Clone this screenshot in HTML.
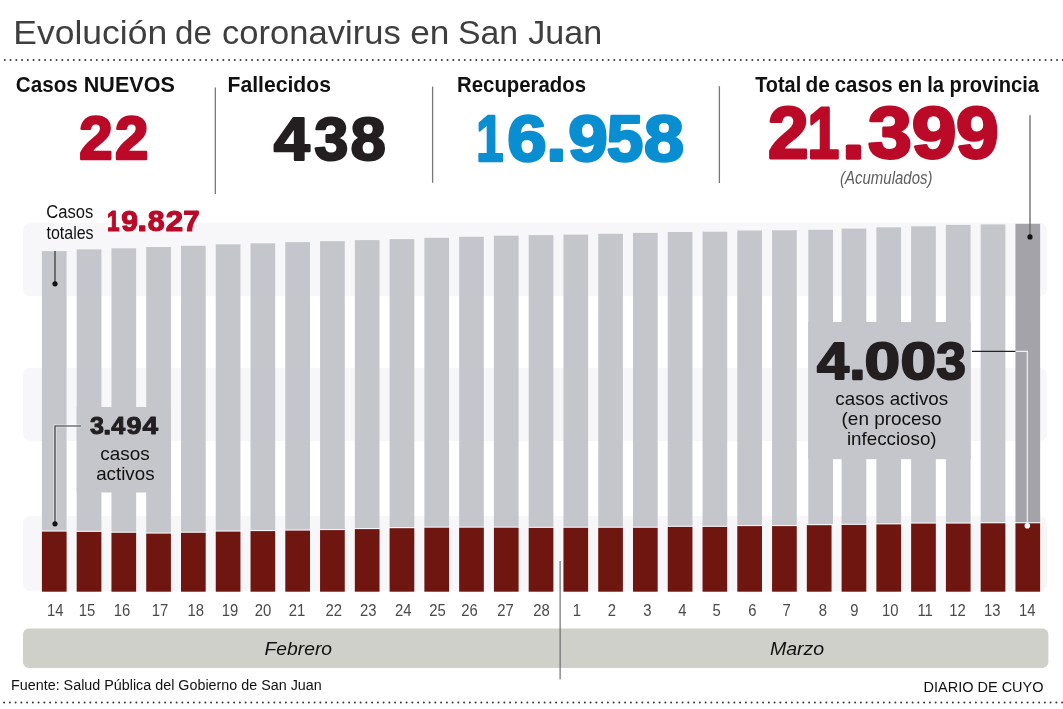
<!DOCTYPE html>
<html><head><meta charset="utf-8"><title>Evolución de coronavirus en San Juan</title>
<style>html,body{margin:0;padding:0;background:#fff;width:1063px;height:709px;overflow:hidden}svg{display:block;will-change:transform}text{font-family:"Liberation Sans",sans-serif}</style></head>
<body><svg width="1063" height="709" viewBox="0 0 1063 709">
<rect x="23" y="223" width="1024" height="73" rx="7" fill="#f7f7f9"/>
<rect x="23" y="368" width="1024" height="73" rx="7" fill="#f7f7f9"/>
<rect x="23" y="516" width="1024" height="75" rx="7" fill="#f7f7f9"/>
<rect x="41.91" y="251.10" width="24.7" height="279.40" fill="#c5c6cb"/>
<rect x="41.91" y="531.60" width="24.7" height="60.10" fill="#701611"/>
<rect x="76.68" y="249.40" width="24.7" height="281.40" fill="#c5c6cb"/>
<rect x="76.68" y="531.90" width="24.7" height="59.80" fill="#701611"/>
<rect x="111.45" y="248.30" width="24.7" height="283.40" fill="#c5c6cb"/>
<rect x="111.45" y="532.80" width="24.7" height="58.90" fill="#701611"/>
<rect x="146.22" y="247.00" width="24.7" height="285.50" fill="#c5c6cb"/>
<rect x="146.22" y="533.60" width="24.7" height="58.10" fill="#701611"/>
<rect x="180.99" y="245.80" width="24.7" height="285.90" fill="#c5c6cb"/>
<rect x="180.99" y="532.80" width="24.7" height="58.90" fill="#701611"/>
<rect x="215.75" y="244.30" width="24.7" height="286.20" fill="#c5c6cb"/>
<rect x="215.75" y="531.60" width="24.7" height="60.10" fill="#701611"/>
<rect x="250.52" y="243.30" width="24.7" height="286.70" fill="#c5c6cb"/>
<rect x="250.52" y="531.10" width="24.7" height="60.60" fill="#701611"/>
<rect x="285.29" y="242.10" width="24.7" height="287.40" fill="#c5c6cb"/>
<rect x="285.29" y="530.60" width="24.7" height="61.10" fill="#701611"/>
<rect x="320.06" y="241.20" width="24.7" height="287.80" fill="#c5c6cb"/>
<rect x="320.06" y="530.10" width="24.7" height="61.60" fill="#701611"/>
<rect x="354.83" y="240.10" width="24.7" height="287.90" fill="#c5c6cb"/>
<rect x="354.83" y="529.10" width="24.7" height="62.60" fill="#701611"/>
<rect x="389.60" y="239.10" width="24.7" height="288.00" fill="#c5c6cb"/>
<rect x="389.60" y="528.20" width="24.7" height="63.50" fill="#701611"/>
<rect x="424.37" y="237.80" width="24.7" height="288.80" fill="#c5c6cb"/>
<rect x="424.37" y="527.70" width="24.7" height="64.00" fill="#701611"/>
<rect x="459.14" y="236.80" width="24.7" height="289.80" fill="#c5c6cb"/>
<rect x="459.14" y="527.70" width="24.7" height="64.00" fill="#701611"/>
<rect x="493.91" y="235.70" width="24.7" height="290.90" fill="#c5c6cb"/>
<rect x="493.91" y="527.70" width="24.7" height="64.00" fill="#701611"/>
<rect x="528.68" y="235.10" width="24.7" height="291.70" fill="#c5c6cb"/>
<rect x="528.68" y="527.90" width="24.7" height="63.80" fill="#701611"/>
<rect x="563.44" y="234.60" width="24.7" height="292.10" fill="#c5c6cb"/>
<rect x="563.44" y="527.80" width="24.7" height="63.90" fill="#701611"/>
<rect x="598.21" y="233.80" width="24.7" height="292.90" fill="#c5c6cb"/>
<rect x="598.21" y="527.80" width="24.7" height="63.90" fill="#701611"/>
<rect x="632.98" y="232.90" width="24.7" height="293.80" fill="#c5c6cb"/>
<rect x="632.98" y="527.80" width="24.7" height="63.90" fill="#701611"/>
<rect x="667.75" y="232.00" width="24.7" height="293.80" fill="#c5c6cb"/>
<rect x="667.75" y="526.90" width="24.7" height="64.80" fill="#701611"/>
<rect x="702.52" y="231.70" width="24.7" height="294.10" fill="#c5c6cb"/>
<rect x="702.52" y="526.90" width="24.7" height="64.80" fill="#701611"/>
<rect x="737.29" y="230.50" width="24.7" height="294.50" fill="#c5c6cb"/>
<rect x="737.29" y="526.10" width="24.7" height="65.60" fill="#701611"/>
<rect x="772.06" y="230.30" width="24.7" height="294.70" fill="#c5c6cb"/>
<rect x="772.06" y="526.10" width="24.7" height="65.60" fill="#701611"/>
<rect x="808.30" y="229.80" width="24.7" height="294.30" fill="#c5c6cb"/>
<rect x="806.83" y="525.20" width="24.7" height="66.50" fill="#701611"/>
<rect x="841.60" y="228.60" width="24.7" height="295.20" fill="#c5c6cb"/>
<rect x="841.60" y="524.90" width="24.7" height="66.80" fill="#701611"/>
<rect x="876.37" y="227.30" width="24.7" height="296.00" fill="#c5c6cb"/>
<rect x="876.37" y="524.40" width="24.7" height="67.30" fill="#701611"/>
<rect x="911.13" y="226.30" width="24.7" height="296.20" fill="#c5c6cb"/>
<rect x="911.13" y="523.60" width="24.7" height="68.10" fill="#701611"/>
<rect x="945.90" y="224.90" width="24.7" height="297.60" fill="#c5c6cb"/>
<rect x="945.90" y="523.60" width="24.7" height="68.10" fill="#701611"/>
<rect x="980.67" y="224.40" width="24.7" height="297.80" fill="#c5c6cb"/>
<rect x="980.67" y="523.30" width="24.7" height="68.40" fill="#701611"/>
<rect x="1015.44" y="223.80" width="24.7" height="298.40" fill="#a3a3a9"/>
<rect x="1015.44" y="523.30" width="24.7" height="68.40" fill="#701611"/>
<rect x="76.68" y="407" width="94.24" height="85.5" fill="#c5c6cb"/>
<rect x="808.2" y="322" width="162.40" height="137.2" fill="#c5c6cb"/>
<rect x="23" y="628.4" width="1025.4" height="39.6" rx="6" fill="#d0d0ca"/>
<line x1="560.1" y1="561" x2="560.1" y2="679.4" stroke="#555" stroke-width="1"/>
<line x1="215.3" y1="87.4" x2="215.3" y2="194" stroke="#777" stroke-width="1.3"/>
<line x1="432.6" y1="86.6" x2="432.6" y2="182.8" stroke="#777" stroke-width="1.3"/>
<line x1="719.4" y1="86.2" x2="719.4" y2="183" stroke="#777" stroke-width="1.3"/>
<line x1="1030" y1="115.2" x2="1030" y2="236.9" stroke="#666" stroke-width="1.3"/>
<circle cx="1030" cy="236.9" r="2.6" fill="#111"/>
<line x1="55" y1="251" x2="55" y2="283.8" stroke="#333" stroke-width="1.2"/>
<circle cx="55" cy="283.8" r="2.6" fill="#111"/>
<polyline points="81,426 55,426 55,523.8" fill="none" stroke="#fff" stroke-opacity="0.5" stroke-width="3.2"/><polyline points="81,426 55,426 55,523.8" fill="none" stroke="#333" stroke-width="1.2"/>
<circle cx="55" cy="523.8" r="2.6" fill="#111"/>
<line x1="972" y1="351.4" x2="1015.6" y2="351.4" stroke="#222" stroke-width="1.2"/>
<polyline points="1015.6,351.4 1027.3,351.4 1027.3,525.8" fill="none" stroke="#f0f0f2" stroke-width="1.2"/>
<circle cx="1027.3" cy="525.8" r="2.8" fill="#fff"/>
<line x1="4.8" y1="60" x2="1063" y2="60" stroke="#383838" stroke-width="2" stroke-dasharray="0 5.75" stroke-linecap="round"/>
<line x1="4.1" y1="702.5" x2="1063" y2="702.5" stroke="#383838" stroke-width="2" stroke-dasharray="0 5.75" stroke-linecap="round"/>
<rect x="549.70" y="148.50" width="13.40" height="13.40" rx="1.61" fill="#0a8ed2"/>
<rect x="845.80" y="144.50" width="15.30" height="15.30" rx="1.84" fill="#ba0a28"/>
<rect x="139.00" y="225.20" width="6.40" height="6.40" rx="0.77" fill="#ba0a28"/>
<rect x="104.70" y="429.70" width="5.10" height="5.10" rx="0.61" fill="#231f20"/>
<rect x="852.10" y="369.60" width="10.60" height="10.60" rx="1.27" fill="#231f20"/>
<text transform="translate(13.32 44.00) scale(1.0458 1)" font-size="33.94" font-weight="normal" font-style="normal" fill="#3e3e3e">Evolución</text>
<text transform="translate(175.04 44.00) scale(0.9755 1)" font-size="33.94" font-weight="normal" font-style="normal" fill="#3e3e3e">de</text>
<text transform="translate(222.07 44.00) scale(1.0186 1)" font-size="33.94" font-weight="normal" font-style="normal" fill="#3e3e3e">coronavirus</text>
<text transform="translate(410.24 44.00) scale(1.0382 1)" font-size="33.94" font-weight="normal" font-style="normal" fill="#3e3e3e">en</text>
<text transform="translate(458.01 44.00) scale(0.9956 1)" font-size="33.94" font-weight="normal" font-style="normal" fill="#3e3e3e">San</text>
<text transform="translate(528.30 44.00) scale(1.0049 1)" font-size="33.94" font-weight="normal" font-style="normal" fill="#3e3e3e">Juan</text>
<text transform="translate(15.86 91.80) scale(0.9427 1)" font-size="21.89" font-weight="bold" font-style="normal" fill="#111">Casos</text>
<text transform="translate(83.82 91.80) scale(0.9844 1)" font-size="21.89" font-weight="bold" font-style="normal" fill="#111">NUEVOS</text>
<text transform="translate(227.55 91.80) scale(0.9665 1)" font-size="21.89" font-weight="bold" font-style="normal" fill="#111">Fallecidos</text>
<text transform="translate(457.11 92.10) scale(0.9299 1)" font-size="21.89" font-weight="bold" font-style="normal" fill="#111">Recuperados</text>
<text transform="translate(755.17 92.20) scale(0.9087 1)" font-size="21.89" font-weight="bold" font-style="normal" fill="#111">Total</text>
<text transform="translate(805.45 92.20) scale(0.9516 1)" font-size="21.89" font-weight="bold" font-style="normal" fill="#111">de</text>
<text transform="translate(834.70 92.20) scale(0.9322 1)" font-size="21.89" font-weight="bold" font-style="normal" fill="#111">casos</text>
<text transform="translate(897.99 92.20) scale(0.9447 1)" font-size="21.89" font-weight="bold" font-style="normal" fill="#111">en</text>
<text transform="translate(927.22 92.20) scale(0.9194 1)" font-size="21.89" font-weight="bold" font-style="normal" fill="#111">la</text>
<text transform="translate(949.62 92.20) scale(0.9191 1)" font-size="21.89" font-weight="bold" font-style="normal" fill="#111">provincia</text>
<text transform="translate(840.07 184.30) scale(0.8339 1)" font-size="17.97" font-weight="normal" font-style="italic" fill="#5e5e5e">(Acumulados)</text>
<text transform="translate(46.29 217.70) scale(0.9075 1)" font-size="18.29" font-weight="normal" font-style="normal" fill="#111">Casos</text>
<text transform="translate(46.48 239.00) scale(0.8755 1)" font-size="18.29" font-weight="normal" font-style="normal" fill="#111">totales</text>
<text transform="translate(100.16 459.80) scale(0.9846 1)" font-size="19.25" font-weight="normal" font-style="normal" fill="#111">casos</text>
<text transform="translate(96.17 479.50) scale(0.9744 1)" font-size="19.25" font-weight="normal" font-style="normal" fill="#111">activos</text>
<text transform="translate(835.37 404.60) scale(0.9763 1)" font-size="19.25" font-weight="normal" font-style="normal" fill="#111">casos activos</text>
<text transform="translate(841.57 424.70) scale(0.9839 1)" font-size="19.25" font-weight="normal" font-style="normal" fill="#111">(en proceso</text>
<text transform="translate(846.88 444.70) scale(0.9754 1)" font-size="19.25" font-weight="normal" font-style="normal" fill="#111">infeccioso)</text>
<text transform="translate(264.48 654.60) scale(1.0335 1)" font-size="18.68" font-weight="normal" font-style="italic" fill="#111">Febrero</text>
<text transform="translate(769.88 654.70) scale(1.0483 1)" font-size="18.68" font-weight="normal" font-style="italic" fill="#111">Marzo</text>
<text transform="translate(11.03 689.80) scale(0.9397 1)" font-size="15.26" font-weight="normal" font-style="normal" fill="#111">Fuente: Salud Pública del Gobierno de San Juan</text>
<text transform="translate(923.60 691.90) scale(0.9621 1)" font-size="15.07" font-weight="normal" font-style="normal" fill="#111">DIARIO DE CUYO</text>
<text transform="translate(79.36 159.20) scale(0.9875 1)" font-size="60.72" font-weight="bold" font-style="normal" fill="#ba0a28" stroke="#ba0a28" stroke-width="2.6" stroke-linejoin="round">2</text>
<text transform="translate(115.06 159.20) scale(0.9875 1)" font-size="60.72" font-weight="bold" font-style="normal" fill="#ba0a28" stroke="#ba0a28" stroke-width="2.6" stroke-linejoin="round">2</text>
<text transform="translate(273.67 159.70) scale(1.0705 1)" font-size="60.58" font-weight="bold" font-style="normal" fill="#231f20" stroke="#231f20" stroke-width="2.2" stroke-linejoin="round">4</text>
<text transform="translate(314.35 159.70) scale(1.0140 1)" font-size="60.58" font-weight="bold" font-style="normal" fill="#231f20" stroke="#231f20" stroke-width="2.2" stroke-linejoin="round">3</text>
<text transform="translate(350.51 159.70) scale(1.0481 1)" font-size="60.58" font-weight="bold" font-style="normal" fill="#231f20" stroke="#231f20" stroke-width="2.2" stroke-linejoin="round">8</text>
<text transform="translate(476.23 160.60) scale(0.7515 1)" font-size="65.22" font-weight="bold" font-style="normal" fill="#0a8ed2" stroke="#0a8ed2" stroke-width="2.6" stroke-linejoin="round">1</text>
<text transform="translate(507.21 160.60) scale(1.0861 1)" font-size="65.22" font-weight="bold" font-style="normal" fill="#0a8ed2" stroke="#0a8ed2" stroke-width="2.6" stroke-linejoin="round">6</text>
<text transform="translate(568.21 160.60) scale(1.0891 1)" font-size="65.22" font-weight="bold" font-style="normal" fill="#0a8ed2" stroke="#0a8ed2" stroke-width="2.6" stroke-linejoin="round">9</text>
<text transform="translate(606.85 160.60) scale(1.0057 1)" font-size="65.22" font-weight="bold" font-style="normal" fill="#0a8ed2" stroke="#0a8ed2" stroke-width="2.6" stroke-linejoin="round">5</text>
<text transform="translate(644.07 160.60) scale(1.1022 1)" font-size="65.22" font-weight="bold" font-style="normal" fill="#0a8ed2" stroke="#0a8ed2" stroke-width="2.6" stroke-linejoin="round">8</text>
<text transform="translate(767.88 158.40) scale(1.0160 1)" font-size="71.74" font-weight="bold" font-style="normal" fill="#ba0a28" stroke="#ba0a28" stroke-width="2.8" stroke-linejoin="round">2</text>
<text transform="translate(807.51 158.40) scale(0.7972 1)" font-size="71.74" font-weight="bold" font-style="normal" fill="#ba0a28" stroke="#ba0a28" stroke-width="2.8" stroke-linejoin="round">1</text>
<text transform="translate(867.93 158.40) scale(1.0987 1)" font-size="71.74" font-weight="bold" font-style="normal" fill="#ba0a28" stroke="#ba0a28" stroke-width="2.8" stroke-linejoin="round">3</text>
<text transform="translate(911.78 158.40) scale(1.1205 1)" font-size="71.74" font-weight="bold" font-style="normal" fill="#ba0a28" stroke="#ba0a28" stroke-width="2.8" stroke-linejoin="round">9</text>
<text transform="translate(956.03 158.40) scale(1.0702 1)" font-size="71.74" font-weight="bold" font-style="normal" fill="#ba0a28" stroke="#ba0a28" stroke-width="2.8" stroke-linejoin="round">9</text>
<text transform="translate(106.95 231.00) scale(0.7600 1)" font-size="29.71" font-weight="bold" font-style="normal" fill="#ba0a28" stroke="#ba0a28" stroke-width="1.2" stroke-linejoin="round">1</text>
<text transform="translate(121.19 231.00) scale(1.0194 1)" font-size="29.71" font-weight="bold" font-style="normal" fill="#ba0a28" stroke="#ba0a28" stroke-width="1.2" stroke-linejoin="round">9</text>
<text transform="translate(147.65 231.00) scale(1.0187 1)" font-size="29.71" font-weight="bold" font-style="normal" fill="#ba0a28" stroke="#ba0a28" stroke-width="1.2" stroke-linejoin="round">8</text>
<text transform="translate(165.67 231.00) scale(1.0516 1)" font-size="29.71" font-weight="bold" font-style="normal" fill="#ba0a28" stroke="#ba0a28" stroke-width="1.2" stroke-linejoin="round">2</text>
<text transform="translate(183.26 231.00) scale(0.9867 1)" font-size="29.71" font-weight="bold" font-style="normal" fill="#ba0a28" stroke="#ba0a28" stroke-width="1.2" stroke-linejoin="round">7</text>
<text transform="translate(89.90 434.30) scale(1.0189 1)" font-size="24.64" font-weight="bold" font-style="normal" fill="#231f20" stroke="#231f20" stroke-width="1.0" stroke-linejoin="round">3</text>
<text transform="translate(111.26 434.30) scale(1.0246 1)" font-size="24.64" font-weight="bold" font-style="normal" fill="#231f20" stroke="#231f20" stroke-width="1.0" stroke-linejoin="round">4</text>
<text transform="translate(126.52 434.30) scale(1.1000 1)" font-size="24.64" font-weight="bold" font-style="normal" fill="#231f20" stroke="#231f20" stroke-width="1.0" stroke-linejoin="round">9</text>
<text transform="translate(142.48 434.30) scale(1.1368 1)" font-size="24.64" font-weight="bold" font-style="normal" fill="#231f20" stroke="#231f20" stroke-width="1.0" stroke-linejoin="round">4</text>
<text transform="translate(817.08 379.20) scale(1.1126 1)" font-size="51.74" font-weight="bold" font-style="normal" fill="#231f20" stroke="#231f20" stroke-width="2.0" stroke-linejoin="round">4</text>
<text transform="translate(864.46 379.20) scale(1.2374 1)" font-size="51.74" font-weight="bold" font-style="normal" fill="#231f20" stroke="#231f20" stroke-width="2.0" stroke-linejoin="round">0</text>
<text transform="translate(900.56 379.20) scale(1.2374 1)" font-size="51.74" font-weight="bold" font-style="normal" fill="#231f20" stroke="#231f20" stroke-width="2.0" stroke-linejoin="round">0</text>
<text transform="translate(936.14 379.20) scale(1.0306 1)" font-size="51.74" font-weight="bold" font-style="normal" fill="#231f20" stroke="#231f20" stroke-width="2.0" stroke-linejoin="round">3</text>
<text transform="translate(47.05 615.9) scale(0.9000 1)" font-size="16.52" fill="#4a4a4a">14</text>
<text transform="translate(78.75 615.9) scale(0.9000 1)" font-size="16.52" fill="#4a4a4a">15</text>
<text transform="translate(113.75 615.9) scale(0.9000 1)" font-size="16.52" fill="#4a4a4a">16</text>
<text transform="translate(151.65 615.9) scale(0.9000 1)" font-size="16.52" fill="#4a4a4a">17</text>
<text transform="translate(187.55 615.9) scale(0.9000 1)" font-size="16.52" fill="#4a4a4a">18</text>
<text transform="translate(221.75 615.9) scale(0.9000 1)" font-size="16.52" fill="#4a4a4a">19</text>
<text transform="translate(254.85 615.9) scale(0.9000 1)" font-size="16.52" fill="#4a4a4a">20</text>
<text transform="translate(288.75 615.9) scale(0.9000 1)" font-size="16.52" fill="#4a4a4a">21</text>
<text transform="translate(325.55 615.9) scale(0.9000 1)" font-size="16.52" fill="#4a4a4a">22</text>
<text transform="translate(359.95 615.9) scale(0.9000 1)" font-size="16.52" fill="#4a4a4a">23</text>
<text transform="translate(395.05 615.9) scale(0.9000 1)" font-size="16.52" fill="#4a4a4a">24</text>
<text transform="translate(429.35 615.9) scale(0.9000 1)" font-size="16.52" fill="#4a4a4a">25</text>
<text transform="translate(461.25 615.9) scale(0.9000 1)" font-size="16.52" fill="#4a4a4a">26</text>
<text transform="translate(497.15 615.9) scale(0.9000 1)" font-size="16.52" fill="#4a4a4a">27</text>
<text transform="translate(533.15 615.9) scale(0.9000 1)" font-size="16.52" fill="#4a4a4a">28</text>
<text transform="translate(572.75 615.9) scale(0.9000 1)" font-size="16.52" fill="#4a4a4a">1</text>
<text transform="translate(607.85 615.9) scale(0.9000 1)" font-size="16.52" fill="#4a4a4a">2</text>
<text transform="translate(643.35 615.9) scale(0.9000 1)" font-size="16.52" fill="#4a4a4a">3</text>
<text transform="translate(678.25 615.9) scale(0.9000 1)" font-size="16.52" fill="#4a4a4a">4</text>
<text transform="translate(712.55 615.9) scale(0.9000 1)" font-size="16.52" fill="#4a4a4a">5</text>
<text transform="translate(748.25 615.9) scale(0.9000 1)" font-size="16.52" fill="#4a4a4a">6</text>
<text transform="translate(782.45 615.9) scale(0.9000 1)" font-size="16.52" fill="#4a4a4a">7</text>
<text transform="translate(818.85 615.9) scale(0.9000 1)" font-size="16.52" fill="#4a4a4a">8</text>
<text transform="translate(850.35 615.9) scale(0.9000 1)" font-size="16.52" fill="#4a4a4a">9</text>
<text transform="translate(881.95 615.9) scale(0.9000 1)" font-size="16.52" fill="#4a4a4a">10</text>
<text transform="translate(917.45 615.9) scale(0.9000 1)" font-size="16.52" fill="#4a4a4a">11</text>
<text transform="translate(949.35 615.9) scale(0.9000 1)" font-size="16.52" fill="#4a4a4a">12</text>
<text transform="translate(984.05 615.9) scale(0.9000 1)" font-size="16.52" fill="#4a4a4a">13</text>
<text transform="translate(1018.95 615.9) scale(0.9000 1)" font-size="16.52" fill="#4a4a4a">14</text>
</svg></body></html>
